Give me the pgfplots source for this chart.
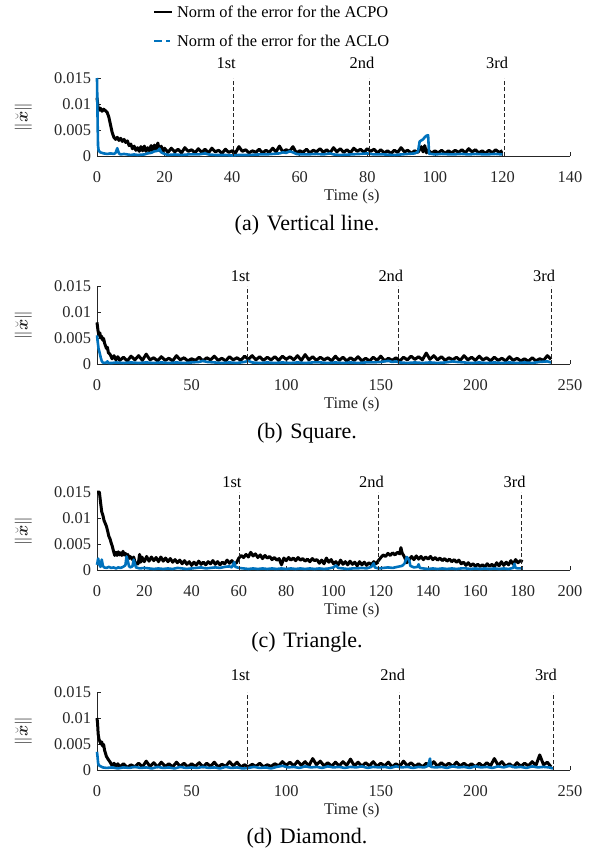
\documentclass[border=0pt]{standalone}
\usepackage{pgfplots}
\pgfplotsset{compat=1.18}
\usepackage{amsmath}
\usepackage{fontspec}
\setmainfont{Liberation Serif}
\definecolor{mblue}{rgb}{0,0.447,0.741}
\definecolor{axgray}{gray}{0.15}
\newcommand{\fs}{\fontsize{16.4bp}{19bp}\selectfont}
\newcommand{\capfs}{\fontsize{22bp}{26bp}\selectfont}
\tikzset{
  vdash/.style={axgray, line width=0.6bp, dash pattern=on 4bp off 2.5bp},
  lapl/.style={font=\fs, text=black},
}
\pgfplotsset{
  myax/.style={
    scale only axis, width=473bp, height=78bp,
    axis x line*=bottom, axis y line*=left,
    xmin=0, ymin=0, ymax=15,
    ytick={0,5,10,15}, yticklabels={0,0.005,0.01,0.015},
    tick align=inside, major tick length=4bp,
    axis line style={axgray, line width=0.6bp},
    every tick/.style={axgray, line width=0.6bp},
    tick label style={font=\fs, text=axgray},
    /pgf/number format/assume math mode=true,
    xticklabel style={yshift=-12bp},
    yticklabel style={xshift=-2.5bp},
    xlabel={Time (s)},
    ylabel={$\|\breve{\boldsymbol{x}}\|$},
    every axis x label/.style={at={(axis description cs:0.539,-0.526)}, anchor=center, font=\fs, text=axgray},
    every axis y label/.style={at={(axis description cs:-0.156,0.5)}, rotate=90, anchor=center, font=\fs, text=axgray},
    clip=false,
  },
  blk/.style={black, line width=3bp, line join=round},
  blu/.style={mblue, line width=2.6bp, line join=round},
}
\begin{document}
\begin{tikzpicture}
\path[use as bounding box] (0bp,0bp) rectangle (614bp,-854bp);

% ---------------- (a) Vertical line
\begin{axis}[myax, at={(97bp,-156bp)}, anchor=south west,
  xmax=140, xtick={0,20,...,140},
  legend style={at={(axis description cs:0.118,1.95)}, anchor=north west,
    draw=none, fill=none, font=\fs, inner sep=0pt, row sep=13bp,
    nodes={inner sep=1.5bp},
    every odd column/.append style={column sep=9bp}},
  legend cell align=left]
\addplot[blk, legend image code/.code={\draw[black, line width=2.5bp] (0bp,0bp) -- (18bp,0bp);}] coordinates {
(0,11.2)(0.3,9.5)(0.7,8.8)(1,9.2)(1.5,8.6)(2,9.0)(2.5,8.7)(3,8.4)(3.5,7.5)(4,6.0)(4.5,4.5)(5,3.6)(5.5,3.2)(6,3.6)(6.5,3.0)(7,3.4)(7.5,2.8)(8,3.2)(8.5,2.6)(9,2.9)(9.5,2.0)(10,2.3)(10.5,1.4)(11,1.9)(11.5,1.1)(12,1.6)(12.5,0.9)(13,1.8)(13.5,1.0)(14,1.9)(14.5,0.9)(15,1.6)(15.5,1.0)(16,2.0)(16.5,0.9)(17,2.1)(17.5,1.2)(18,2.5)(18.5,1.0)(19,1.9)(19.5,0.8)(20,1.5)
(21,0.7)(22,1.5)(23,0.8)(24,1.3)(25,0.6)(26,1.6)(27,0.9)(28,1.2)(29,0.6)(30,1.4)(31,0.7)(32,1.3)(33,0.6)(34,1.5)(35,0.8)(36,1.1)(37,0.5)(38,1.3)(39,0.7)(40,1.0)(41,0.6)(42,1.8)(43,0.9)(44,1.2)(45,0.6)(46,1.0)(47,0.7)(48,1.3)(49,0.6)(50,1.1)(51,0.7)(52,1.5)(53,0.8)(54,1.9)(55,0.8)(56,1.2)(57,0.9)(58,1.8)(59,0.6)(60,1.0)(61,0.7)(62,1.3)(63,0.6)(64,1.1)(65,0.8)(66,1.4)(67,0.7)(68,1.2)(69,0.6)(70,1.6)(71,0.8)(72,1.4)(73,0.7)(74,1.2)(75,0.6)(76,1.5)(77,0.9)(78,1.3)(79,0.7)(80,1.4)(81,0.9)(82,1.3)(83,0.6)(84,1.2)(85,0.6)(86,1.0)(87,0.5)(88,1.1)(89,0.7)(90,1.6)(91,0.8)(92,1.1)(93,0.5)(94,1.0)(95,0.7)(96,1.8)(96.5,0.8)(97,2.0)(97.5,0.6)(98,1.2)(99,0.5)(100,1.0)(101,0.6)(102,1.1)(103,0.5)(104,1.0)(105,0.6)(106,1.1)(107,0.7)(108,1.2)(109,0.6)(110,1.4)(111,0.8)(112,1.2)(113,0.6)(114,1.0)(115,0.5)(116,1.1)(117,0.6)(118,1.2)(119,0.7)(120,1.0)
};
\addlegendentry{Norm of the error for the ACPO}
\addplot[blu, legend image code/.code={\draw[mblue, line width=2.5bp, dash pattern=on 8bp off 4bp on 4bp off 4bp] (0bp,0bp) -- (20bp,0bp);}] coordinates {
(0,15)(0.15,8)(0.3,2)(0.5,1.0)(1,0.7)(2,0.5)(3,0.4)(4,0.5)(5,0.4)(5.5,0.6)(6,1.5)(6.5,0.5)(7,0.3)(8,0.4)(9,0.3)(10,0.2)(11,0.3)(12,0.2)(14,0.3)(15,0.5)(16,0.6)(17,0.9)(18,1.0)(18.5,1.4)(19,0.7)(20,0.4)(21,0.2)(23,0.3)(25,0.2)(27,0.3)(30,0.3)(32,0.5)(33,0.3)(35,0.2)(38,0.2)(40,0.1)(42,0.2)(45,0.2)(48,0.3)(50,0.3)(52,0.4)(54,0.5)(55,0.7)(56,0.6)(57,0.9)(58,0.7)(59,0.4)(60,0.3)(62,0.3)(65,0.4)(67,0.3)(69,0.5)(70,0.3)(72,0.2)(75,0.3)(78,0.4)(80,0.5)(82,0.3)(85,0.3)(88,0.2)(90,0.3)(92,0.4)(94,0.5)(95,0.8)(95.5,2.8)(96,3.0)(96.5,3.2)(97,3.6)(97.5,3.9)(98,4.0)(98.3,0.4)(99,0.4)(100,0.3)(102,0.4)(105,0.3)(108,0.4)(110,0.3)(112,0.4)(115,0.3)(118,0.4)(120,0.3)
};
\addlegendentry{Norm of the error for the ACLO}
\draw[vdash] (axis cs:40.3,0) -- (axis cs:40.3,15);
\draw[vdash] (axis cs:80.5,0) -- (axis cs:80.5,15);
\draw[vdash] (axis cs:120.5,0) -- (axis cs:120.5,15);
\node[lapl] at ([xshift=-7bp, yshift=15bp]axis cs:40.3,15) {1st};
\node[lapl] at ([xshift=-7bp, yshift=15bp]axis cs:80.5,15) {2nd};
\node[lapl] at ([xshift=-7bp, yshift=15bp]axis cs:120.5,15) {3rd};
\end{axis}
\node[font=\capfs] at (307bp,-225bp) {(a)\hspace{0.1em} Vertical line.};

% ---------------- (b) Square
\begin{axis}[myax, at={(97bp,-364bp)}, anchor=south west,
  xmax=250, xtick={0,50,...,250}]
\addplot[blk] coordinates {
(0,8.0)(0.5,6.5)(1,5.5)(1.5,6.0)(2,5.0)(2.5,5.3)(3,4.6)(3.5,4.9)(4,4.0)(5,3.0)(5.5,3.2)(6,2.2)(7,1.8)(8,1.0)(9,1.6)(10,0.8)(11,1.4)
(12,0.7)(14,1.3)(16,0.6)(18,1.5)(20,0.8)(22,1.6)(24,0.7)(26,1.9)(28,0.8)(30,1.2)(32,0.6)(34,1.4)(36,0.7)(38,1.1)(40,0.6)(42,1.6)(44,0.8)(46,1.2)(48,0.6)(50,1.0)(52,0.7)(54,1.3)(56,0.6)(58,1.2)(60,0.8)(62,1.5)(64,0.7)(66,1.1)(68,0.6)(70,1.4)(72,0.8)(74,1.2)(76,0.7)(78,1.5)(80,0.9)(82,1.6)(84,0.8)(86,1.4)(88,0.7)(90,1.3)(92,0.8)(94,1.4)(96,0.7)(98,1.5)(100,0.9)(102,1.4)(104,0.8)(106,1.6)(108,0.7)(110,1.8)(112,0.8)(114,1.4)(116,0.7)(118,1.3)(120,0.8)(122,1.2)(124,0.6)(126,1.5)(128,0.7)(130,1.3)(132,0.6)(134,1.2)(136,0.7)(138,1.4)(140,0.6)(142,1.1)(144,0.6)(146,1.3)(148,0.7)(150,1.5)(152,0.6)(154,1.1)(156,0.7)(158,1.2)(160,0.6)(162,1.3)(164,0.8)(166,1.5)(168,0.9)(170,1.4)(172,0.8)(174,2.1)(176,0.9)(178,1.6)(180,0.8)(182,1.4)(184,0.7)(186,1.2)(188,0.8)(190,1.3)(192,0.7)(194,1.6)(196,0.8)(198,1.3)(200,0.7)(202,1.5)(204,0.8)(206,1.2)(208,0.6)(210,1.3)(212,0.7)(214,1.1)(216,0.6)(218,1.4)(220,0.7)(222,1.1)(224,0.6)(226,1.0)(228,0.5)(230,1.2)(232,0.6)(234,1.0)(236,0.7)(238,1.6)(240,0.9)
};
\addplot[blu] coordinates {
(0,5.5)(0.3,4.5)(0.8,3.0)(1.5,2.0)(2,1.2)(2.5,0.6)(3,0.3)(4,0.2)(5,0.3)(5.5,0.5)(6,0.2)(8,0.2)(10,0.3)(14,0.2)(18,0.3)(22,0.2)(26,0.3)(30,0.2)(34,0.3)(38,0.2)(42,0.3)(46,0.2)(50,0.3)(54,0.4)(56,0.6)(58,0.4)(62,0.3)(66,0.2)(70,0.3)(74,0.2)(78,0.4)(80,0.6)(82,0.3)(86,0.2)(90,0.3)(94,0.2)(98,0.3)(102,0.2)(106,0.3)(110,0.2)(114,0.3)(118,0.3)(122,0.2)(126,0.3)(130,0.2)(134,0.3)(138,0.2)(142,0.3)(146,0.3)(150,0.4)(154,0.6)(156,0.4)(158,0.5)(160,0.3)(164,0.2)(168,0.3)(172,0.2)(176,0.3)(180,0.2)(184,0.3)(188,0.5)(190,0.4)(194,0.3)(198,0.2)(202,0.3)(206,0.2)(210,0.3)(214,0.2)(218,0.3)(222,0.2)(226,0.3)(230,0.2)(234,0.4)(238,0.5)(240,0.3)
};
\draw[vdash] (axis cs:79.5,0) -- (axis cs:79.5,15);
\draw[vdash] (axis cs:159,0) -- (axis cs:159,15);
\draw[vdash] (axis cs:240,0) -- (axis cs:240,15);
\node[lapl] at ([xshift=-7bp, yshift=10bp]axis cs:79.5,15) {1st};
\node[lapl] at ([xshift=-7bp, yshift=10bp]axis cs:159,15) {2nd};
\node[lapl] at ([xshift=-7bp, yshift=10bp]axis cs:240,15) {3rd};
\end{axis}
\node[font=\capfs] at (307bp,-433bp) {(b)\hspace{0.1em} Square.};

% ---------------- (c) Triangle
\begin{axis}[myax, at={(97bp,-570bp)}, anchor=south west,
  xmax=200, xtick={0,20,...,200}]
\addplot[blk] coordinates {
(0,15)(1,15)(1.5,13)(2,11.2)(2.5,10.5)(3,9.5)(4,8.4)(4.5,7.5)(5,6.5)(5.5,6.0)(6,5.2)(6.5,4.5)(7,3.6)(7.5,2.8)(8,3.4)(8.5,2.8)(9,3.5)(9.5,2.9)(10,3.3)(10.5,2.8)(11,3.6)(11.5,2.9)(12,3.2)(12.5,2.6)(13,3.0)(13.5,2.2)(14,2.6)(15,2.0)(15.5,2.5)(16,1.6)(17,1.1)(17.5,1.3)(18,3.0)(18.5,1.5)(19,2.5)(20,1.6)(21,2.6)(22,1.7)(23,2.5)(24,1.8)(25,2.4)(26,1.6)(27,2.5)(28,1.7)(29,2.3)(30,1.6)(31,2.2)(32,1.5)(33,2.0)(34,1.4)(35,1.9)(36,1.2)(37,1.8)(38,1.1)(39,1.6)(40,0.9)(41,1.5)(42,1.0)(43,1.7)(44,1.1)(45,1.5)(46,1.0)(47,1.6)(48,1.2)(49,1.8)(50,1.1)(51,1.6)(52,1.0)(53,1.5)(54,1.2)(55,1.9)(56,1.3)(57,1.8)(58,1.2)(59,1.4)(60,2.3)(61,2.8)(62,2.4)(63,3.0)(64,2.5)(65,3.4)(66,2.7)(67,3.1)(68,2.4)(69,2.9)(70,2.2)(71,2.8)(72,2.3)(73,2.6)(74,2.0)(75,2.4)(76,1.9)(77,2.2)(78,1.0)(79,2.3)(80,1.8)(81,2.4)(82,1.9)(83,2.3)(84,1.8)(85,2.4)(86,1.9)(87,2.2)(88,1.7)(89,2.1)(90,1.6)(91,2.2)(92,1.8)(93,2.0)(94,1.3)(95,1.9)(96,1.2)(97,2.3)(98,1.5)(99,2.0)(100,1.2)(101,1.6)(102,1.0)(103,1.9)(104,1.1)(105,1.6)(106,1.0)(107,1.7)(108,1.1)(109,1.5)(110,0.8)(111,1.6)(112,1.0)(113,1.5)(114,0.9)(115,1.4)(116,1.0)(117,1.6)(118,1.2)(119,1.8)(120,2.4)(121,2.9)(122,2.6)(123,3.2)(124,2.8)(125,3.3)(126,2.9)(127,3.4)(128,3.1)(128.5,4.3)(129,3.3)(130,2.5)(131,1.4)(132,2.0)(133,2.6)(134,2.0)(135,2.7)(136,2.1)(137,2.6)(138,2.0)(139,2.5)(140,2.1)(141,2.6)(142,2.0)(143,2.4)(144,1.9)(145,2.3)(146,1.8)(147,2.2)(148,1.7)(149,2.1)(150,1.6)(151,2.0)(152,1.5)(153,1.9)(154,1.2)(155,1.5)(156,0.9)(157,1.4)(158,0.8)(159,1.2)(160,0.7)(161,1.1)(162,0.7)(163,1.0)(164,0.6)(165,1.2)(166,0.7)(167,1.1)(168,0.6)(169,1.4)(170,0.8)(171,1.6)(172,0.9)(173,1.5)(174,1.0)(175,1.8)(176,1.1)(177,2.0)(178,1.4)(179,1.8)(180,1.6)
};
\addplot[blu] coordinates {
(0,1.0)(0.5,2.2)(1,1.0)(1.5,0.6)(2,2.0)(2.5,0.8)(3,0.5)(4,0.4)(5,0.6)(6,0.4)(7,0.5)(8,0.3)(9,0.5)(10,0.4)(11,0.6)(12,0.9)(12.5,2.6)(13,1.8)(13.5,0.8)(14,0.5)(15,0.7)(15.5,2.0)(16,1.2)(16.5,0.5)(18,0.3)(20,0.4)(22,0.3)(24,0.2)(26,0.3)(28,0.2)(30,0.3)(32,0.2)(34,0.4)(36,0.3)(38,0.2)(40,0.3)(42,0.4)(44,0.5)(46,0.3)(48,0.4)(50,0.5)(52,0.4)(54,0.6)(56,0.7)(57,0.5)(58,1.5)(58.5,0.6)(60,0.4)(62,0.3)(64,0.2)(66,0.3)(68,0.2)(70,0.3)(72,0.2)(74,0.3)(76,0.2)(78,0.3)(80,0.2)(82,0.3)(84,0.2)(86,0.3)(88,0.2)(90,0.3)(92,0.2)(94,0.3)(96,0.2)(98,0.3)(100,0.5)(101,0.9)(102,0.4)(104,0.3)(106,0.2)(108,0.3)(110,0.3)(112,0.4)(114,0.3)(116,0.6)(117,1.3)(117.5,0.5)(119,0.3)(121,0.4)(123,0.5)(125,0.4)(127,0.6)(129,0.8)(130,1.2)(131,2.5)(132,1.9)(132.5,0.8)(134,0.5)(135.5,0.6)(136,1.1)(136.5,0.4)(138,0.3)(140,0.2)(142,0.3)(144,0.2)(146,0.3)(148,0.2)(150,0.3)(152,0.2)(154,0.3)(156,0.3)(158,0.2)(160,0.3)(162,0.2)(164,0.3)(166,0.2)(168,0.3)(170,0.2)(172,0.3)(174,0.2)(176,0.4)(176.5,1.2)(177,0.4)(178,0.3)(180,0.3)
};
\draw[vdash] (axis cs:60,0) -- (axis cs:60,15);
\draw[vdash] (axis cs:119,0) -- (axis cs:119,15);
\draw[vdash] (axis cs:179.5,0) -- (axis cs:179.5,15);
\node[lapl] at ([xshift=-7bp, yshift=10bp]axis cs:60,15) {1st};
\node[lapl] at ([xshift=-7bp, yshift=10bp]axis cs:119,15) {2nd};
\node[lapl] at ([xshift=-7bp, yshift=10bp]axis cs:179.5,15) {3rd};
\end{axis}
\node[font=\capfs] at (307bp,-642bp) {(c)\hspace{0.1em} Triangle.};

% ---------------- (d) Diamond
\begin{axis}[myax, at={(97bp,-770bp)}, anchor=south west,
  xmax=250, xtick={0,50,...,250}]
\addplot[blk] coordinates {
(0,10)(0.3,9)(0.6,7)(1,6.0)(1.5,5.5)(2,5.0)(2.5,5.4)(3,4.6)(3.5,4.9)(4,3.8)(4.5,3.2)(5,2.6)(6,2.0)(7,1.5)(8,0.8)(9,1.3)(10,0.7)(11,1.2)
(12,0.6)(14,1.2)(16,0.5)(18,1.0)(20,0.6)(22,1.3)(24,0.6)(26,1.7)(28,0.7)(30,1.4)(32,0.6)(34,1.5)(36,0.7)(38,1.2)(40,0.6)(42,1.5)(44,0.7)(46,1.3)(48,0.6)(50,1.2)(52,0.7)(54,1.4)(56,0.6)(58,1.3)(60,0.7)(62,1.5)(64,0.6)(66,1.1)(68,0.7)(70,1.6)(72,0.8)(74,1.5)(76,0.6)(78,1.0)(80,0.6)(82,1.1)(84,0.7)(86,1.3)(88,0.6)(90,1.0)(92,0.7)(94,1.2)(96,0.8)(98,1.6)(100,0.9)(102,1.5)(104,0.8)(106,1.7)(108,0.9)(110,1.6)(112,0.8)(114,2.2)(116,1.0)(118,1.7)(120,0.8)(122,1.4)(124,0.7)(126,1.5)(128,0.8)(130,1.6)(132,0.9)(134,2.1)(136,0.8)(138,1.5)(140,0.7)(142,1.4)(144,0.8)(146,1.6)(148,0.7)(150,1.3)(152,0.8)(154,1.5)(156,0.6)(158,1.2)(160,0.7)(162,1.7)(164,0.8)(166,1.4)(168,0.7)(170,1.2)(172,0.6)(174,1.3)(176,0.8)(178,1.6)(180,0.7)(182,1.4)(184,0.8)(186,1.3)(188,0.7)(190,1.5)(192,0.8)(194,1.3)(196,0.7)(198,1.2)(200,0.6)(202,1.3)(204,0.7)(206,1.4)(208,0.8)(210,2.2)(212,0.9)(214,1.6)(216,0.7)(218,1.2)(220,0.6)(222,1.4)(224,0.7)(226,1.3)(228,0.8)(230,1.6)(232,0.9)(234,2.9)(236,1.0)(238,1.5)(240,0.6)
};
\addplot[blu] coordinates {
(0,3.5)(0.3,2.5)(0.6,1.3)(1,0.9)(2,0.7)(3,0.5)(5,0.4)(8,0.5)(11,0.3)(14,0.5)(17,0.4)(20,0.6)(23,0.4)(26,0.5)(29,0.3)(32,0.6)(35,0.4)(38,0.5)(41,0.3)(44,0.6)(47,0.4)(50,0.5)(53,0.4)(56,0.6)(59,0.4)(62,0.5)(65,0.3)(68,0.6)(71,0.4)(74,0.5)(77,0.3)(80,0.4)(83,0.6)(86,0.4)(89,0.5)(92,0.3)(95,0.6)(98,0.8)(101,0.5)(104,0.6)(107,0.4)(110,0.7)(113,0.5)(116,0.6)(119,0.4)(122,0.7)(125,0.5)(128,0.6)(131,0.4)(134,0.6)(137,0.5)(140,0.7)(143,0.4)(146,0.6)(149,0.5)(152,0.6)(155,0.4)(158,0.7)(161,0.5)(164,0.6)(167,0.4)(170,0.6)(173,0.5)(175,0.8)(176,2.2)(176.5,0.6)(179,0.5)(182,0.6)(185,0.4)(188,0.7)(191,0.5)(194,0.6)(197,0.4)(200,0.7)(203,0.5)(206,0.6)(209,0.4)(212,0.7)(215,0.5)(218,0.8)(221,0.5)(224,0.6)(227,0.4)(230,0.7)(233,0.5)(236,0.6)(239,0.5)(241,0.3)
};
\draw[vdash] (axis cs:79.5,0) -- (axis cs:79.5,15);
\draw[vdash] (axis cs:160,0) -- (axis cs:160,15);
\draw[vdash] (axis cs:241,0) -- (axis cs:241,15);
\node[lapl] at ([xshift=-7bp, yshift=17bp]axis cs:79.5,15) {1st};
\node[lapl] at ([xshift=-7bp, yshift=17bp]axis cs:160,15) {2nd};
\node[lapl] at ([xshift=-7bp, yshift=17bp]axis cs:241,15) {3rd};
\end{axis}
\node[font=\capfs] at (307bp,-838bp) {(d)\hspace{0.1em} Diamond.};
\end{tikzpicture}
\end{document}
